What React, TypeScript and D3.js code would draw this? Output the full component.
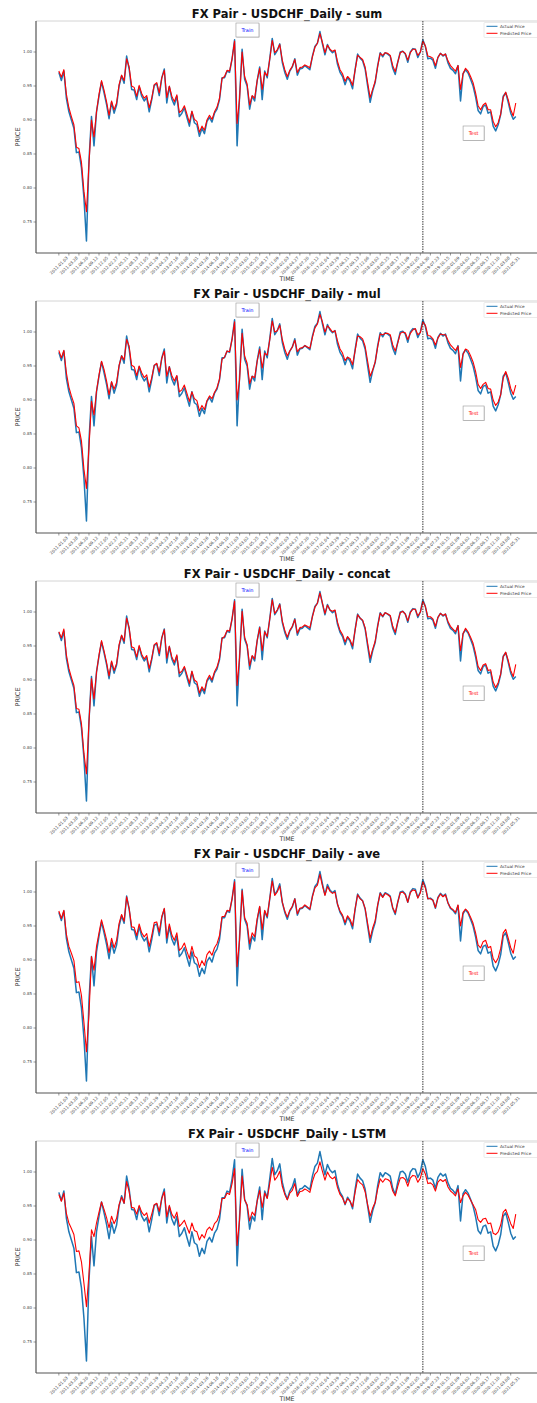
import React, { useEffect } from "react";
import * as d3 from "d3";

// layout
const W = 537;
const H = 1403;
const STEP = 15; // rows between samples
const LAST = 2730; // last row index
const SPLIT = 2175; // first test row

const models = ["sum", "mul", "concat", "ave", "LSTM"];

const actual = [
  0.970, 0.958, 0.972, 0.932, 0.912, 0.900, 0.888, 0.852, 0.853, 0.830,
  0.785, 0.722, 0.840, 0.905, 0.862, 0.912, 0.935, 0.956, 0.940, 0.923,
  0.902, 0.926, 0.910, 0.922, 0.950, 0.965, 0.954, 0.994, 0.975, 0.945,
  0.944, 0.930, 0.949, 0.935, 0.928, 0.933, 0.912, 0.930, 0.951, 0.953,
  0.936, 0.962, 0.975, 0.925, 0.949, 0.931, 0.922, 0.935, 0.905, 0.910,
  0.918, 0.904, 0.891, 0.912, 0.896, 0.893, 0.876, 0.888, 0.880, 0.898,
  0.904, 0.897, 0.910, 0.916, 0.930, 0.962, 0.962, 0.972, 0.970, 0.990,
  1.018, 0.862, 0.935, 1.004, 0.960, 0.950, 0.916, 0.935, 0.928, 0.958,
  0.978, 0.930, 0.972, 0.962, 0.990, 1.020, 0.996, 1.002, 1.012, 0.985,
  0.970, 0.960, 0.972, 0.978, 0.990, 0.966, 0.975, 0.976, 0.980, 0.977,
  0.974, 0.994, 1.008, 1.013, 1.030, 1.012, 0.996, 1.011, 1.003, 0.999,
  1.002, 0.982, 0.970, 0.964, 0.952, 0.963, 0.957, 0.946, 0.974, 0.997,
  0.991, 0.987, 0.975, 0.950, 0.926, 0.943, 0.955, 0.980, 0.999, 0.993,
  0.999, 0.997, 0.994, 0.976, 0.967, 0.985, 1.000, 1.001, 0.997, 0.985,
  1.000, 1.005, 1.004, 0.992, 1.000, 1.018, 1.008, 0.990, 0.991, 0.988,
  0.976, 0.992, 0.998, 0.994, 0.997, 0.984, 0.976, 0.973, 0.968, 0.980,
  0.928, 0.968, 0.974, 0.969, 0.960, 0.950, 0.934, 0.914, 0.909, 0.920,
  0.922, 0.910, 0.912, 0.891, 0.884, 0.893, 0.908, 0.935, 0.940, 0.926,
  0.910, 0.901, 0.905,
];

const predSum = [
  0.972, 0.963, 0.974, 0.938, 0.918, 0.905, 0.893, 0.860, 0.858, 0.838,
  0.795, 0.765, 0.835, 0.900, 0.875, 0.912, 0.938, 0.958, 0.944, 0.927,
  0.907, 0.928, 0.915, 0.925, 0.952, 0.966, 0.958, 0.990, 0.978, 0.950,
  0.948, 0.935, 0.951, 0.939, 0.932, 0.936, 0.918, 0.932, 0.952, 0.955,
  0.940, 0.962, 0.973, 0.933, 0.950, 0.935, 0.927, 0.937, 0.911, 0.914,
  0.921, 0.909, 0.896, 0.913, 0.901, 0.898, 0.882, 0.891, 0.885, 0.900,
  0.907, 0.901, 0.912, 0.919, 0.932, 0.961, 0.964, 0.973, 0.972, 0.990,
  1.016, 0.895, 0.932, 1.000, 0.964, 0.953, 0.922, 0.936, 0.932, 0.958,
  0.976, 0.945, 0.970, 0.965, 0.989, 1.017, 0.999, 1.003, 1.011, 0.988,
  0.974, 0.964, 0.973, 0.979, 0.989, 0.970, 0.977, 0.978, 0.981, 0.979,
  0.977, 0.993, 1.007, 1.013, 1.027, 1.014, 0.999, 1.010, 1.004, 1.001,
  1.003, 0.986, 0.974, 0.968, 0.957, 0.964, 0.960, 0.951, 0.973, 0.995,
  0.992, 0.989, 0.978, 0.955, 0.933, 0.945, 0.957, 0.979, 0.998, 0.995,
  0.999, 0.998, 0.995, 0.980, 0.971, 0.985, 0.999, 1.001, 0.998, 0.988,
  0.999, 1.004, 1.004, 0.995, 1.000, 1.016, 1.009, 0.994, 0.993, 0.991,
  0.980, 0.992, 0.998, 0.995, 0.997, 0.987, 0.980, 0.976, 0.972, 0.980,
  0.945, 0.968, 0.976, 0.972, 0.964, 0.955, 0.940, 0.921, 0.915, 0.922,
  0.925, 0.915, 0.915, 0.898, 0.890, 0.896, 0.909, 0.933, 0.941, 0.930,
  0.915, 0.906, 0.925,
];

const predMul = [
  0.973, 0.962, 0.973, 0.940, 0.919, 0.906, 0.895, 0.862, 0.859, 0.840,
  0.798, 0.770, 0.830, 0.898, 0.878, 0.913, 0.937, 0.957, 0.945, 0.928,
  0.908, 0.927, 0.916, 0.926, 0.951, 0.965, 0.959, 0.989, 0.979, 0.951,
  0.949, 0.936, 0.950, 0.940, 0.933, 0.937, 0.919, 0.933, 0.951, 0.954,
  0.941, 0.961, 0.972, 0.935, 0.949, 0.936, 0.928, 0.936, 0.912, 0.915,
  0.922, 0.910, 0.898, 0.912, 0.902, 0.899, 0.884, 0.892, 0.886, 0.899,
  0.906, 0.902, 0.911, 0.918, 0.931, 0.960, 0.963, 0.972, 0.971, 0.989,
  1.015, 0.900, 0.930, 0.998, 0.965, 0.954, 0.924, 0.935, 0.933, 0.957,
  0.975, 0.947, 0.969, 0.966, 0.988, 1.016, 1.000, 1.002, 1.010, 0.989,
  0.975, 0.965, 0.972, 0.978, 0.988, 0.971, 0.976, 0.977, 0.980, 0.978,
  0.976, 0.992, 1.006, 1.012, 1.026, 1.015, 1.000, 1.009, 1.005, 1.000,
  1.002, 0.987, 0.975, 0.969, 0.958, 0.963, 0.961, 0.952, 0.972, 0.994,
  0.993, 0.990, 0.979, 0.957, 0.935, 0.944, 0.956, 0.978, 0.997, 0.996,
  0.998, 0.998, 0.996, 0.981, 0.972, 0.984, 0.998, 1.000, 0.999, 0.989,
  0.998, 1.003, 1.005, 0.996, 0.999, 1.015, 1.010, 0.995, 0.994, 0.990,
  0.981, 0.991, 0.997, 0.996, 0.996, 0.988, 0.981, 0.977, 0.973, 0.979,
  0.948, 0.967, 0.975, 0.973, 0.965, 0.956, 0.942, 0.923, 0.917, 0.923,
  0.926, 0.917, 0.916, 0.900, 0.892, 0.897, 0.908, 0.932, 0.942, 0.932,
  0.917, 0.908, 0.922,
];

const predConcat = [
  0.971, 0.962, 0.975, 0.937, 0.917, 0.904, 0.892, 0.858, 0.857, 0.836,
  0.792, 0.762, 0.838, 0.902, 0.872, 0.911, 0.937, 0.958, 0.943, 0.926,
  0.906, 0.928, 0.914, 0.924, 0.952, 0.966, 0.957, 0.991, 0.977, 0.949,
  0.947, 0.934, 0.951, 0.938, 0.931, 0.936, 0.917, 0.932, 0.952, 0.955,
  0.939, 0.962, 0.974, 0.932, 0.950, 0.934, 0.926, 0.937, 0.910, 0.913,
  0.920, 0.908, 0.895, 0.913, 0.900, 0.897, 0.881, 0.890, 0.884, 0.900,
  0.907, 0.900, 0.912, 0.919, 0.932, 0.961, 0.964, 0.973, 0.972, 0.990,
  1.016, 0.892, 0.933, 1.001, 0.963, 0.952, 0.921, 0.936, 0.931, 0.958,
  0.977, 0.943, 0.971, 0.964, 0.989, 1.018, 0.998, 1.003, 1.011, 0.987,
  0.973, 0.963, 0.973, 0.979, 0.989, 0.969, 0.977, 0.978, 0.981, 0.979,
  0.977, 0.993, 1.007, 1.013, 1.028, 1.013, 0.998, 1.010, 1.003, 1.001,
  1.003, 0.985, 0.973, 0.967, 0.956, 0.964, 0.959, 0.950, 0.973, 0.996,
  0.991, 0.988, 0.977, 0.954, 0.932, 0.945, 0.957, 0.979, 0.998, 0.994,
  0.999, 0.997, 0.995, 0.979, 0.970, 0.985, 0.999, 1.001, 0.997, 0.987,
  0.999, 1.004, 1.004, 0.994, 1.000, 1.016, 1.008, 0.993, 0.993, 0.990,
  0.979, 0.992, 0.998, 0.995, 0.997, 0.986, 0.979, 0.975, 0.971, 0.980,
  0.943, 0.968, 0.976, 0.971, 0.963, 0.954, 0.939, 0.920, 0.914, 0.922,
  0.924, 0.914, 0.915, 0.897, 0.889, 0.896, 0.909, 0.934, 0.941, 0.929,
  0.914, 0.905, 0.923,
];

const predAve = [
  0.972, 0.961, 0.973, 0.938, 0.920, 0.910, 0.899, 0.867, 0.868, 0.848,
  0.808, 0.765, 0.820, 0.905, 0.885, 0.920, 0.940, 0.959, 0.945, 0.930,
  0.911, 0.932, 0.918, 0.929, 0.954, 0.967, 0.957, 0.993, 0.976, 0.949,
  0.948, 0.936, 0.953, 0.940, 0.934, 0.939, 0.920, 0.936, 0.955, 0.956,
  0.941, 0.964, 0.976, 0.932, 0.953, 0.937, 0.929, 0.940, 0.914, 0.918,
  0.925, 0.913, 0.902, 0.920, 0.906, 0.903, 0.889, 0.899, 0.892, 0.908,
  0.913, 0.907, 0.918, 0.924, 0.936, 0.964, 0.964, 0.973, 0.972, 0.990,
  1.015, 0.890, 0.930, 1.002, 0.962, 0.954, 0.924, 0.940, 0.934, 0.961,
  0.979, 0.945, 0.973, 0.964, 0.990, 1.016, 0.995, 1.000, 1.009, 0.985,
  0.972, 0.963, 0.973, 0.979, 0.990, 0.968, 0.976, 0.977, 0.981, 0.978,
  0.975, 0.993, 1.006, 1.010, 1.026, 1.009, 0.995, 1.008, 1.001, 0.998,
  1.000, 0.982, 0.972, 0.966, 0.955, 0.965, 0.960, 0.950, 0.975, 0.996,
  0.990, 0.987, 0.976, 0.954, 0.932, 0.947, 0.958, 0.981, 0.998, 0.992,
  0.998, 0.996, 0.993, 0.977, 0.969, 0.985, 0.999, 1.000, 0.996, 0.985,
  0.999, 1.003, 1.002, 0.991, 0.999, 1.015, 1.006, 0.990, 0.990, 0.988,
  0.977, 0.991, 0.997, 0.993, 0.996, 0.984, 0.977, 0.974, 0.970, 0.981,
  0.950, 0.970, 0.975, 0.971, 0.963, 0.954, 0.940, 0.922, 0.918, 0.927,
  0.929, 0.918, 0.920, 0.902, 0.896, 0.903, 0.917, 0.940, 0.945, 0.932,
  0.918, 0.910, 0.930,
];

const predLstm = [
  0.967, 0.957, 0.969, 0.939, 0.925, 0.917, 0.908, 0.883, 0.884, 0.868,
  0.836, 0.802, 0.850, 0.915, 0.905, 0.925, 0.941, 0.956, 0.945, 0.933,
  0.918, 0.935, 0.924, 0.932, 0.952, 0.963, 0.954, 0.986, 0.971, 0.948,
  0.947, 0.938, 0.951, 0.941, 0.936, 0.940, 0.925, 0.938, 0.952, 0.954,
  0.942, 0.961, 0.971, 0.934, 0.951, 0.938, 0.932, 0.941, 0.920, 0.924,
  0.929, 0.919, 0.910, 0.925, 0.914, 0.912, 0.900, 0.908, 0.903, 0.915,
  0.919, 0.914, 0.924, 0.928, 0.938, 0.961, 0.961, 0.969, 0.967, 0.983,
  1.005, 0.892, 0.930, 0.994, 0.959, 0.952, 0.928, 0.941, 0.936, 0.957,
  0.973, 0.948, 0.969, 0.961, 0.983, 1.007, 0.988, 0.993, 1.001, 0.979,
  0.967, 0.959, 0.969, 0.973, 0.983, 0.964, 0.971, 0.972, 0.975, 0.973,
  0.970, 0.986, 0.997, 1.001, 1.015, 1.001, 0.988, 1.000, 0.993, 0.990,
  0.993, 0.977, 0.967, 0.962, 0.953, 0.961, 0.957, 0.949, 0.970, 0.989,
  0.984, 0.981, 0.971, 0.952, 0.935, 0.947, 0.955, 0.975, 0.990, 0.985,
  0.990, 0.989, 0.986, 0.972, 0.965, 0.979, 0.991, 0.992, 0.989, 0.979,
  0.991, 0.995, 0.994, 0.985, 0.991, 1.005, 0.997, 0.983, 0.984, 0.981,
  0.972, 0.985, 0.989, 0.986, 0.989, 0.978, 0.972, 0.969, 0.965, 0.975,
  0.955, 0.965, 0.970, 0.966, 0.959, 0.952, 0.945, 0.930, 0.926, 0.931,
  0.932, 0.924, 0.925, 0.910, 0.908, 0.912, 0.922, 0.941, 0.945, 0.935,
  0.924, 0.917, 0.938,
];

const predictions = [predSum, predMul, predConcat, predAve, predLstm];

// one label every 60 rows
const tickLabels = [
  "2011.01.03", "2011.03.28", "2011.06.20", "2011.09.12", "2011.12.05",
  "2012.02.27", "2012.05.21", "2012.08.13", "2012.11.05", "2013.01.29",
  "2013.04.23", "2013.07.16", "2013.10.08", "2014.01.01", "2014.03.26",
  "2014.06.18", "2014.09.10", "2014.12.03", "2015.03.02", "2015.05.25",
  "2015.08.17", "2015.11.09", "2016.02.03", "2016.04.27", "2016.07.20",
  "2016.10.12", "2017.01.04", "2017.03.29", "2017.06.21", "2017.09.13",
  "2017.12.06", "2018.03.02", "2018.05.25", "2018.08.17", "2018.11.09",
  "2019.02.05", "2019.04.30", "2019.07.23", "2019.10.15", "2020.01.09",
  "2020.04.02", "2020.06.25", "2020.09.17", "2020.12.10", "2021.03.08",
  "2021.05.31",
];

const yTicks = [0.75, 0.8, 0.85, 0.9, 0.95, 1.0];

const FONT = "DejaVu Sans, sans-serif";

function Panel({ idx, name, pred }: { idx: number; name: string; pred: number[] }) {
  const top = 21 + 280 * idx;
  const bottom = top + 232;
  const left = 36;

  const x = d3.scaleLinear().domain([-0.05 * LAST, 1.05 * LAST]).range([left, 538.6]);
  const y = d3.scaleLinear().domain([0.7044, 1.0456]).range([bottom, top]);

  const line = d3
    .line<number>()
    .x((_, k) => x(k * STEP))
    .y((v) => y(v));

  const trainX = x(1127);
  const testX = x(2478);
  const splitX = x(SPLIT);

  return (
    <g>
      <text x={287} y={top - 3} textAnchor="middle" fontFamily={FONT} fontWeight="bold" fontSize={11.5} fill="#111">
        {`FX Pair - USDCHF_Daily - ${name}`}
      </text>

      {/* frame */}
      <line x1={left} x2={W} y1={top} y2={top} stroke="#d4d4d4" strokeWidth={1} />
      <line x1={left} x2={left} y1={top} y2={bottom} stroke="#555" strokeWidth={1.2} />
      <line x1={left} x2={W} y1={bottom} y2={bottom} stroke="#555" strokeWidth={1.2} />

      {/* y axis */}
      {yTicks.map((t) => (
        <g key={t}>
          <line x1={left - 2.5} x2={left} y1={y(t)} y2={y(t)} stroke="#555" strokeWidth={0.6} />
          <text x={left - 4} y={y(t)} dy="0.35em" textAnchor="end" fontFamily={FONT} fontSize={4} fill="#444">
            {t.toFixed(2)}
          </text>
        </g>
      ))}
      <text
        transform={`translate(18,${(top + bottom) / 2}) rotate(-90)`}
        textAnchor="middle"
        dy="0.35em"
        fontFamily={FONT}
        fontSize={6.5}
        fill="#333"
      >
        PRICE
      </text>

      {/* x axis */}
      {tickLabels.map((lab, i) => {
        const tx = x(i * 60);
        return (
          <g key={lab}>
            <line x1={tx} x2={tx} y1={bottom} y2={bottom + 2.5} stroke="#555" strokeWidth={0.6} />
            <text
              transform={`translate(${tx},${bottom + 12.5}) rotate(-45)`}
              textAnchor="middle"
              dy="0.35em"
              fontFamily={FONT}
              fontSize={4.1}
              fill="#444"
            >
              {lab}
            </text>
          </g>
        );
      })}
      <text x={287} y={bottom + 27.5} textAnchor="middle" fontFamily={FONT} fontSize={6.3} fill="#333">
        TIME
      </text>

      {/* series */}
      <path d={line(actual) || ""} fill="none" stroke="#1f77b4" strokeWidth={1.5} strokeLinejoin="round" />
      <path d={line(pred) || ""} fill="none" stroke="#ff0000" strokeWidth={1.1} strokeLinejoin="round" />

      {/* train / test split */}
      <line x1={splitX} x2={splitX} y1={top} y2={bottom} stroke="#222" strokeWidth={0.9} strokeDasharray="1.5,1" />

      <rect x={trainX - 11} y={top + 2.5} width={23} height={14} fill="#888" opacity={0.5} />
      <rect x={trainX - 11.5} y={top + 2} width={23} height={14} fill="#fff" stroke="#999" strokeWidth={0.6} />
      <text x={trainX} y={top + 9} dy="0.35em" textAnchor="middle" fontFamily={FONT} fontSize={5} fill="#0000ff">
        Train
      </text>

      <rect x={testX - 10} y={top + 105.5} width={21} height={14.5} fill="#888" opacity={0.5} />
      <rect x={testX - 10.5} y={top + 105} width={21} height={14.5} fill="#fff" stroke="#999" strokeWidth={0.6} />
      <text x={testX} y={top + 112.2} dy="0.35em" textAnchor="middle" fontFamily={FONT} fontSize={5} fill="#ff0000">
        Test
      </text>

      {/* legend */}
      <rect x={484} y={top + 1.5} width={60} height={15} fill="#fff" stroke="#ddd" strokeWidth={0.6} rx={1} />
      <line x1={486.5} x2={497.5} y1={top + 5.3} y2={top + 5.3} stroke="#1f77b4" strokeWidth={1} />
      <text x={500} y={top + 5.3} dy="0.35em" fontFamily={FONT} fontSize={4.2} fill="#333">
        Actual Price
      </text>
      <line x1={486.5} x2={497.5} y1={top + 12.3} y2={top + 12.3} stroke="#ff0000" strokeWidth={1} />
      <text x={500} y={top + 12.3} dy="0.35em" fontFamily={FONT} fontSize={4.2} fill="#333">
        Predicted Price
      </text>
    </g>
  );
}

export default function App() {
  useEffect(() => {
    document.body.style.margin = "0";
  }, []);

  return (
    <svg width={W} height={H} viewBox={`0 0 ${W} ${H}`} style={{ display: "block", background: "#fff" }}>
      <rect width={W} height={H} fill="#fff" />
      {models.map((m, i) => (
        <Panel key={m} idx={i} name={m} pred={predictions[i]} />
      ))}
    </svg>
  );
}
